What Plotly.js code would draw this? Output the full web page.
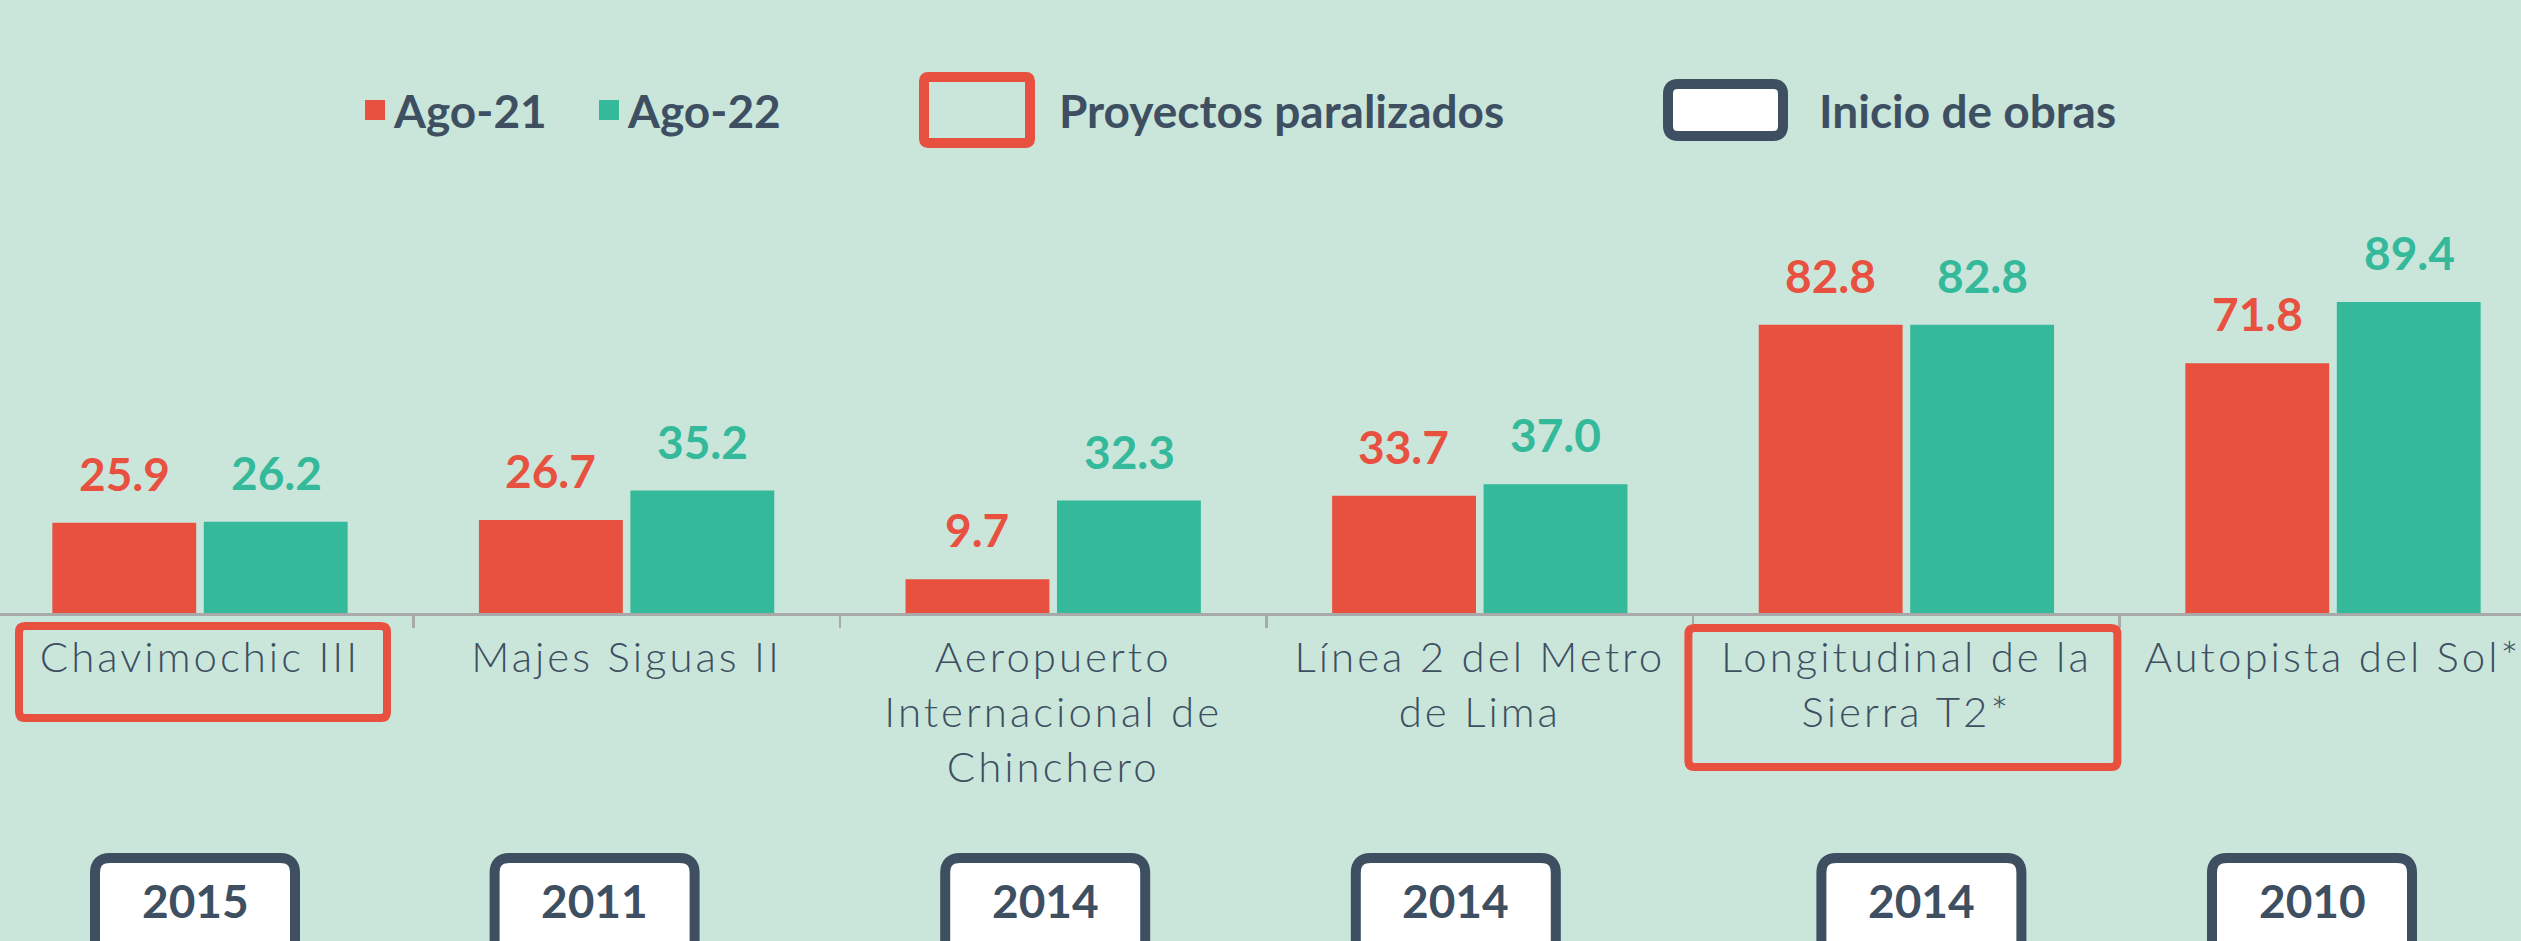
<!DOCTYPE html>
<html>
<head>
<meta charset="utf-8">
<script src="https://cdn.plot.ly/plotly-3.0.1.min.js"></script>
<style>
  html, body { margin: 0; padding: 0; background: #cae6db; }
  #chart { width: 2521px; height: 941px; }
  #chart .xtick text { letter-spacing: 3px; }
</style>
</head>
<body>
<div id="chart"></div>
<script>
// ---------- data ----------
const categories = [
  'Chavimochic III',
  'Majes Siguas II',
  'Aeropuerto<br>Internacional de<br>Chinchero',
  'Línea 2 del Metro<br>de Lima',
  'Longitudinal de la<br>Sierra T2*',
  'Autopista del Sol*'
];
const seriesNames = ['Ago-21', 'Ago-22'];
const ago21 = [25.9, 26.7, 9.7, 33.7, 82.8, 71.8];
const ago22 = [26.2, 35.2, 32.3, 37.0, 82.8, 89.4];
const startYears = ['2015', '2011', '2014', '2014', '2014', '2010'];
const paralizados = ['Chavimochic III', 'Longitudinal de la<br>Sierra T2*'];
const legendExtra = ['Proyectos paralizados', 'Inicio de obras'];

// ---------- style ----------
const W = 2521, H = 941;
const BASE = 613;               // pixel row of the category axis
const RED = '#e8503f', GREEN = '#34b99a', DARK = '#3d4f61', BG = '#cae6db';
const FONT = 'Lato, "Open Sans", sans-serif';
const seriesColors = [RED, GREEN];
const barShift = [-76, 76];

const px = x => x / W;                 // page px -> paper x
const py = y => (BASE - y) / BASE;     // page px -> paper y

function roundRect(x0, y0, x1, y1, r) {
  const P = (x, y) => px(x) + ',' + py(y);
  return 'M' + P(x0 + r, y0) + ' L' + P(x1 - r, y0) + ' Q' + P(x1, y0) + ' ' + P(x1, y0 + r) +
         ' L' + P(x1, y1 - r) + ' Q' + P(x1, y1) + ' ' + P(x1 - r, y1) +
         ' L' + P(x0 + r, y1) + ' Q' + P(x0, y1) + ' ' + P(x0, y1 - r) +
         ' L' + P(x0, y0 + r) + ' Q' + P(x0, y0) + ' ' + P(x0 + r, y0) + ' Z';
}

const catW = 426.6, cat0 = 200;
const catCenter = i => cat0 + i * catW;

const traces = [ago21, ago22].map((vals, k) => ({
  type: 'bar',
  name: seriesNames[k],
  x: categories,
  y: vals,
  marker: { color: seriesColors[k], line: { width: 0 } },
  hoverinfo: 'x+y+name',
  showlegend: false
}));

const annotations = [];
const shapes = [];

// value labels
[ago21, ago22].forEach((vals, k) => {
  vals.forEach((v, i) => {
    annotations.push({
      xref: 'x', yref: 'y', x: categories[i], y: v,
      xanchor: 'center', yanchor: 'bottom', xshift: barShift[k], yshift: 20,
      text: '<b>' + v.toFixed(1) + '</b>', showarrow: false,
      font: { family: FONT, size: 46, color: seriesColors[k] }
    });
  });
});

// legend: series squares
const legSq = [[365, 627], [599, 861]];
seriesNames.forEach((n, k) => {
  const x0 = legSq[k][0];
  shapes.push({ type: 'rect', xref: 'paper', yref: 'paper', x0: px(x0), x1: px(x0 + 20), y0: py(100), y1: py(120),
    fillcolor: seriesColors[k], line: { width: 0 } });
  annotations.push({ xref: 'paper', yref: 'paper', x: px(x0 + 26), y: py(110), xanchor: 'left', yanchor: 'middle',
    text: '<b>' + n + '</b>', showarrow: false, font: { family: FONT, size: 46, color: DARK } });
});
// legend: paralyzed / start boxes
shapes.push({ type: 'path', xref: 'paper', yref: 'paper', path: roundRect(924, 77, 1030, 143, 4),
  fillcolor: 'rgba(0,0,0,0)', line: { color: RED, width: 10 } });
annotations.push({ xref: 'paper', yref: 'paper', x: px(1057), y: py(110), xanchor: 'left', yanchor: 'middle',
  text: '<b>' + legendExtra[0] + '</b>', showarrow: false, font: { family: FONT, size: 46, color: DARK } });
shapes.push({ type: 'path', xref: 'paper', yref: 'paper', path: roundRect(1668, 84, 1783, 136, 10),
  fillcolor: '#ffffff', line: { color: DARK, width: 10 } });
annotations.push({ xref: 'paper', yref: 'paper', x: px(1817), y: py(110), xanchor: 'left', yanchor: 'middle',
  text: '<b>' + legendExtra[1] + '</b>', showarrow: false, font: { family: FONT, size: 46, color: DARK } });

// paralyzed highlight boxes around labels
const paraBox = {
  'Chavimochic III': [-181, 626, 187, 718],
  'Longitudinal de la<br>Sierra T2*': [-218, 628, 211, 767]
};
paralizados.forEach(c => {
  const i = categories.indexOf(c), b = paraBox[c], cx = catCenter(i);
  shapes.push({ type: 'path', xref: 'paper', yref: 'paper', path: roundRect(cx + b[0], b[1], cx + b[2], b[3], 6),
    fillcolor: 'rgba(0,0,0,0)', line: { color: RED, width: 8 } });
});

// start-year boxes
const yearShift = [-5, -32, -8, -24, 15, -21];
startYears.forEach((yr, i) => {
  const cx = catCenter(i) + yearShift[i];
  shapes.push({ type: 'path', xref: 'paper', yref: 'paper', path: roundRect(cx - 100, 858, cx + 100, 975, 15),
    fillcolor: '#ffffff', line: { color: DARK, width: 10 } });
  annotations.push({ xref: 'paper', yref: 'paper', x: px(cx), y: py(900), xanchor: 'center', yanchor: 'middle',
    text: '<b>' + yr + '</b>', showarrow: false, font: { family: FONT, size: 46, color: DARK } });
});

const layout = {
  width: W, height: H,
  margin: { l: 0, r: 0, t: 0, b: H - BASE, pad: 0 },
  paper_bgcolor: BG, plot_bgcolor: BG,
  barmode: 'group', bargap: 0.29, bargroupgap: 0.05,
  showlegend: false,
  xaxis: {
    type: 'category',
    range: [-cat0 / catW, (W - cat0) / catW],
    tickson: 'boundaries',
    ticks: 'outside', ticklen: 12, tickwidth: 2.5, tickcolor: '#a9a9a9',
    showline: true, linecolor: '#a9a9a9', linewidth: 3,
    showgrid: false, zeroline: false, automargin: false,
    ticklabelstandoff: 6,
    tickfont: { family: FONT, size: 42, color: DARK, weight: 300 },
    fixedrange: true
  },
  yaxis: {
    range: [0, BASE / 3.48],
    visible: false, showgrid: false, zeroline: false, fixedrange: true
  },
  shapes: shapes,
  annotations: annotations
};

Plotly.newPlot('chart', traces, layout, { displayModeBar: false, staticPlot: true });
</script>
</body>
</html>
